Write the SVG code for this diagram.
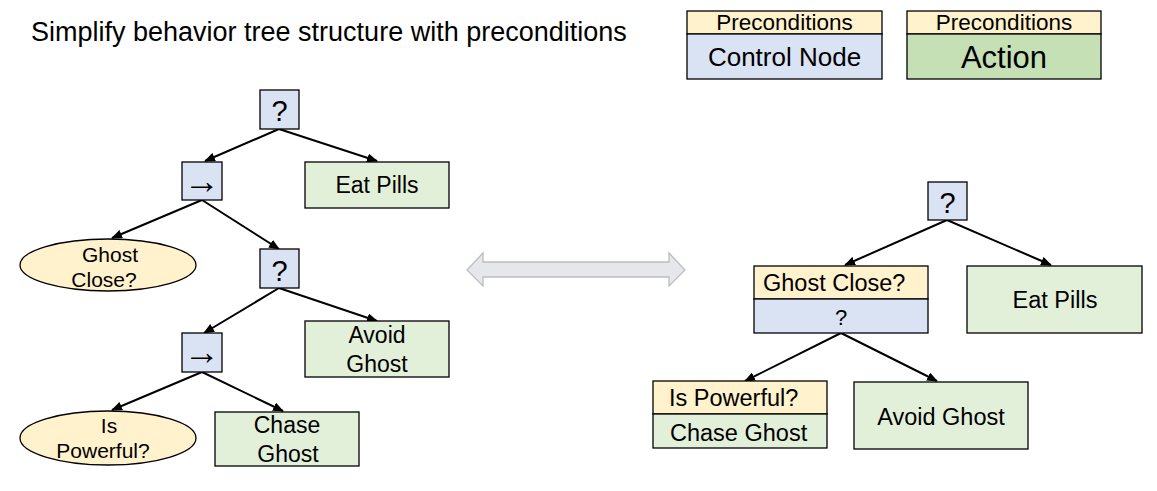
<svg xmlns="http://www.w3.org/2000/svg" width="1157" height="491" viewBox="0 0 1157 491">
<defs>
<style>
text{font-family:"Liberation Sans",Arial,sans-serif;fill:#000;}
.ctl{fill:#dae3f3;stroke:#000;stroke-width:1.3;}
.act{fill:#e2f0d9;stroke:#000;stroke-width:1.3;}
.actd{fill:#c5e0b4;stroke:#000;stroke-width:1.3;}
.pre{fill:#fff2cc;stroke:#000;stroke-width:1.3;}
.edge{stroke:#000;stroke-width:2;fill:none;marker-end:url(#ah);}
.c{text-anchor:middle;}
</style>
<marker id="ah" markerUnits="userSpaceOnUse" markerWidth="11" markerHeight="9" refX="10" refY="4.5" orient="auto">
<path d="M0,0 L11,4.5 L0,9 z" fill="#000"/>
</marker>
</defs>
<rect width="1157" height="491" fill="#fff"/>
<text x="31" y="41" font-size="27">Simplify behavior tree structure with preconditions</text>

<g id="legend-control">
<rect class="pre" x="687" y="11" width="195" height="23"/>
<rect class="ctl" x="687" y="34" width="195" height="45"/>
<text class="c" x="784.5" y="30" font-size="22.5">Preconditions</text>
<text class="c" x="784.5" y="66" font-size="26">Control Node</text>
</g>
<g id="legend-action">
<rect class="pre" x="907" y="11" width="194" height="23"/>
<rect class="actd" x="907" y="34" width="194" height="45"/>
<text class="c" x="1004" y="30" font-size="22.5">Preconditions</text>
<text class="c" x="1004" y="68" font-size="31">Action</text>
</g>

<g id="connectors">
<line class="edge" x1="279" y1="129" x2="205" y2="161"/>
<line class="edge" x1="279" y1="129" x2="377" y2="161"/>
<line class="edge" x1="202" y1="200" x2="112" y2="238"/>
<line class="edge" x1="202" y1="200" x2="279" y2="249"/>
<line class="edge" x1="279" y1="288" x2="204" y2="333"/>
<line class="edge" x1="279" y1="288" x2="377" y2="321"/>
<line class="edge" x1="202" y1="372" x2="112" y2="410"/>
<line class="edge" x1="202" y1="372" x2="283" y2="411"/>
<line class="edge" x1="947" y1="220" x2="845" y2="265"/>
<line class="edge" x1="947" y1="220" x2="1051" y2="265"/>
<line class="edge" x1="841" y1="333" x2="745" y2="381"/>
<line class="edge" x1="841" y1="333" x2="937" y2="381"/>
</g>

<g id="double-arrow">
<polygon points="467,270 483,253 483,262 669,262 669,253 685,270 669,286 669,277 483,277 483,286" fill="#e5e7ea" stroke="#bdbdbd" stroke-width="1.3"/>
</g>

<g id="L-root">
<rect class="ctl" x="260" y="90" width="39" height="39"/>
<text class="c" x="279.5" y="121" font-size="29">?</text>
</g>
<g id="L-seq1">
<rect class="ctl" x="182" y="162" width="40" height="38"/>
<text class="c" x="202" y="193" font-size="36">→</text>
</g>
<g id="L-eatpills">
<rect class="act" x="305" y="162" width="144" height="46"/>
<text class="c" x="377" y="193" font-size="23">Eat Pills</text>
</g>
<g id="L-ghostclose">
<ellipse cx="108" cy="265" rx="88" ry="26" class="pre"/>
<text class="c" x="110" y="262" font-size="21">Ghost</text>
<text class="c" x="104" y="287" font-size="21">Close?</text>
</g>
<g id="L-fallback2">
<rect class="ctl" x="260" y="249" width="39" height="39"/>
<text class="c" x="279.5" y="281" font-size="29">?</text>
</g>
<g id="L-avoidghost">
<rect class="act" x="305" y="321" width="144" height="56"/>
<text class="c" x="377" y="343" font-size="23">Avoid</text>
<text class="c" x="377" y="372" font-size="23">Ghost</text>
</g>
<g id="L-seq2">
<rect class="ctl" x="182" y="333" width="40" height="39"/>
<text class="c" x="202" y="364" font-size="36">→</text>
</g>
<g id="L-ispowerful">
<ellipse cx="108" cy="438" rx="88" ry="27" class="pre"/>
<text class="c" x="109" y="433" font-size="21">Is</text>
<text class="c" x="103" y="458" font-size="21">Powerful?</text>
</g>
<g id="L-chaseghost">
<rect class="act" x="215" y="412" width="144" height="54"/>
<text class="c" x="287" y="433" font-size="23">Chase</text>
<text class="c" x="288" y="462" font-size="23">Ghost</text>
</g>

<g id="R-root">
<rect class="ctl" x="928" y="182" width="39" height="38"/>
<text class="c" x="947.5" y="213" font-size="29">?</text>
</g>
<g id="R-ghostclose">
<rect class="pre" x="754" y="266" width="174" height="33"/>
<rect class="ctl" x="754" y="299" width="174" height="34"/>
<text x="763" y="291" font-size="23.5">Ghost Close?</text>
<text class="c" x="841" y="325" font-size="22">?</text>
</g>
<g id="R-eatpills">
<rect class="act" x="967" y="266" width="175" height="67"/>
<text class="c" x="1055" y="308" font-size="23.5">Eat Pills</text>
</g>
<g id="R-chaseghost">
<rect class="pre" x="653" y="381" width="174" height="33"/>
<rect class="act" x="653" y="414" width="174" height="34"/>
<text x="669" y="406" font-size="23.5">Is Powerful?</text>
<text x="670" y="441" font-size="23.5">Chase Ghost</text>
</g>
<g id="R-avoidghost">
<rect class="act" x="854" y="382" width="174" height="67"/>
<text class="c" x="941" y="425" font-size="23.5">Avoid Ghost</text>
</g>
</svg>
